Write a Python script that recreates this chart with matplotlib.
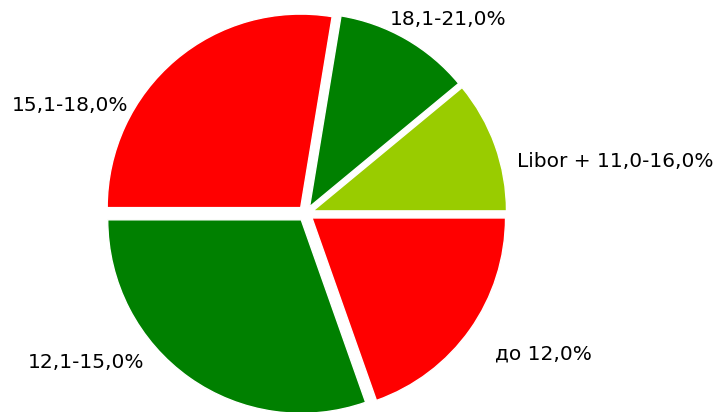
import matplotlib.pyplot as plt

labels = ["Libor + 11,0-16,0%", "18,1-21,0%", "15,1-18,0%", "12,1-15,0%", "до 12,0%"]
values = [11.0, 11.4, 27.6, 30.4, 19.6]
colors = ["#99cc00", "#008000", "#ff0000", "#008000", "#ff0000"]
explode = [0.04] * 5

W, H = 719, 412
fig = plt.figure(figsize=(W / 100, H / 100), dpi=100)

# pie centre (px from top-left) and radius in px
cx, cy, r = 305.7, 213.5, 193.5
half = 215
ax = fig.add_axes([(cx - half) / W, (H - cy - half) / H, 2 * half / W, 2 * half / H])
ax.pie(values, colors=colors, explode=explode, startangle=0, counterclock=True,
       wedgeprops=dict(edgecolor="white", linewidth=1))
ax.set_xlim(-half / r, half / r)
ax.set_ylim(-half / r, half / r)
ax.set_aspect("equal")
ax.axis("off")

# label positions in pixels (left x, baseline y)
label_pos = [(517, 167), (390, 25), (12, 111), (28, 368), (495, 360)]
for text, (x, y) in zip(labels, label_pos):
    fig.text(x / W, 1 - y / H, text, fontsize=14.5, ha="left", va="baseline",
             family="DejaVu Sans")

fig.savefig("out.png", dpi=100)
